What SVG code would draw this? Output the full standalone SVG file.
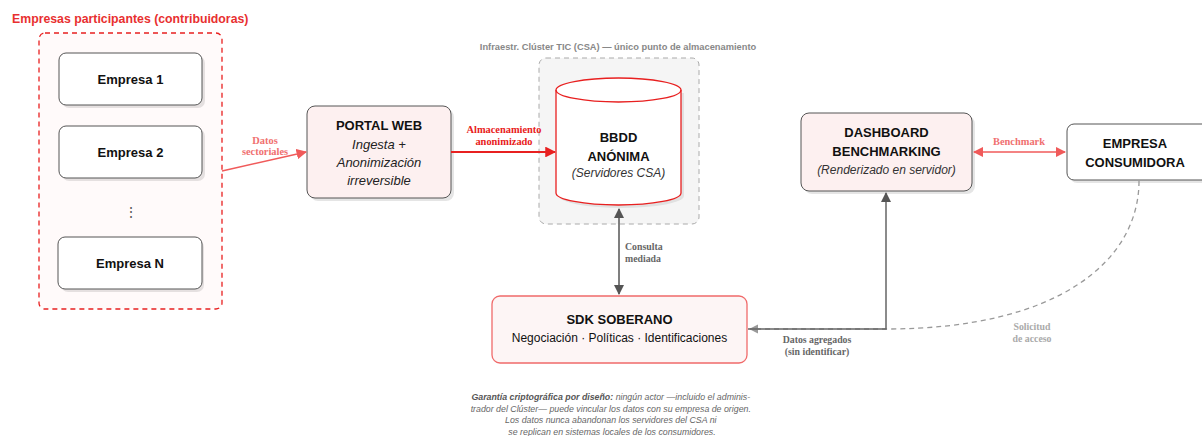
<svg xmlns="http://www.w3.org/2000/svg" width="1202" height="436" viewBox="0 0 1202 436">
<defs>
<style>
.sans{font-family:"Liberation Sans",Arial,sans-serif}
.serif{font-family:"Liberation Serif","Times New Roman",serif;font-weight:bold}
.b13{font-size:13px;font-weight:bold;fill:#111}
.i13{font-size:13px;font-style:italic;fill:#222}
.i12{font-size:12px;font-style:italic;fill:#333}
.box{fill:#fff;stroke:#555;stroke-width:1}
.pink{fill:#fdf0f0;stroke:#555;stroke-width:1}
.shadow{fill:#000;opacity:0.1}
.lbl{font-size:10.4px}
</style>
<marker id="aRed" viewBox="0 0 10 10" refX="9" refY="5" markerWidth="6" markerHeight="6" orient="auto-start-reverse"><path d="M0,0 L10,5 L0,10 z" fill="#e82020"/></marker>
<marker id="aLRed" viewBox="0 0 10 10" refX="9" refY="5" markerWidth="7" markerHeight="7" orient="auto-start-reverse"><path d="M0,0 L10,5 L0,10 z" fill="#f05a5a"/></marker>
<marker id="aDark" viewBox="0 0 10 10" refX="9" refY="5" markerWidth="7" markerHeight="7" orient="auto-start-reverse"><path d="M0,0 L10,5 L0,10 z" fill="#555"/></marker>
<marker id="aGray" viewBox="0 0 10 10" refX="9" refY="5" markerWidth="7" markerHeight="7" orient="auto-start-reverse"><path d="M0,0 L10,5 L0,10 z" fill="#999"/></marker>
</defs>
<rect width="1202" height="436" fill="#fff"/>

<g id="contribuidoras">
<text x="12" y="23" class="sans" font-size="12.3" font-weight="bold" fill="#e83030">Empresas participantes (contribuidoras)</text>
<rect x="39" y="33" width="183" height="276" rx="6" fill="#fffafa" stroke="#e82020" stroke-width="1.3" stroke-dasharray="5,4"/>
</g>
<g id="empresa1">
<rect x="62" y="56" width="143" height="52" rx="7" class="shadow"/>
<rect x="59" y="53" width="143" height="52" rx="7" class="box"/>
<text x="130.5" y="84" text-anchor="middle" class="sans b13">Empresa 1</text>
</g>
<g id="empresa2">
<rect x="62" y="129" width="143" height="52" rx="7" class="shadow"/>
<rect x="59" y="126" width="143" height="52" rx="7" class="box"/>
<text x="130.5" y="157" text-anchor="middle" class="sans b13">Empresa 2</text>
</g>
<g id="dots">
<text x="130.5" y="217" text-anchor="middle" class="sans" font-size="14" fill="#555">⋮</text>
</g>
<g id="empresaN">
<rect x="61" y="240" width="143" height="52" rx="7" class="shadow"/>
<rect x="58" y="237" width="144" height="52" rx="7" class="box"/>
<text x="130" y="268" text-anchor="middle" class="sans b13">Empresa N</text>
</g>

<g id="portal">
<rect x="310" y="109" width="144" height="92" rx="8" class="shadow"/>
<rect x="307" y="106" width="144" height="92" rx="8" class="pink"/>
<text x="379" y="130" text-anchor="middle" class="sans b13">PORTAL WEB</text>
<text x="379" y="149" text-anchor="middle" class="sans i13">Ingesta +</text>
<text x="379" y="167" text-anchor="middle" class="sans i13">Anonimización</text>
<text x="379" y="185" text-anchor="middle" class="sans i13">irreversible</text>
</g>

<g id="cluster">
<text x="618" y="50" text-anchor="middle" class="sans" font-size="9.3" font-weight="bold" fill="#888">Infraestr. Clúster TIC (CSA) — único punto de almacenamiento</text>
<rect x="539" y="58" width="160" height="166" rx="7" fill="#f5f5f5" stroke="#aaa" stroke-width="1" stroke-dasharray="5,4"/>
</g>
<g id="bbdd">
<path d="M559,93 L559,196 A62.5,12 0 0 0 684,196 L684,93" fill="#000" opacity="0.08"/>
<path d="M556,90 L556,193 A62.5,12 0 0 0 681,193 L681,90 A62.5,12 0 0 0 556,90 z" fill="#fff" stroke="#e82020" stroke-width="1.3"/>
<path d="M556,90 A62.5,12 0 0 0 681,90" fill="none" stroke="#e82020" stroke-width="1.3"/>
<text x="618.5" y="142" text-anchor="middle" class="sans b13">BBDD</text>
<text x="618.5" y="161" text-anchor="middle" class="sans b13">ANÓNIMA</text>
<text x="618.5" y="177" text-anchor="middle" class="sans i12">(Servidores CSA)</text>
</g>

<g id="dashboard">
<rect x="804" y="116" width="171" height="78" rx="8" class="shadow"/>
<rect x="801" y="113" width="171" height="78" rx="8" class="pink"/>
<text x="886.5" y="137" text-anchor="middle" class="sans b13">DASHBOARD</text>
<text x="886.5" y="156" text-anchor="middle" class="sans b13">BENCHMARKING</text>
<text x="886.5" y="174" text-anchor="middle" class="sans i12">(Renderizado en servidor)</text>
</g>

<g id="consumidora">
<rect x="1070" y="127" width="150" height="56" rx="7" class="shadow"/>
<rect x="1067" y="124" width="150" height="56" rx="7" class="box"/>
<text x="1135" y="148" text-anchor="middle" class="sans b13">EMPRESA</text>
<text x="1135" y="167" text-anchor="middle" class="sans b13">CONSUMIDORA</text>
</g>

<g id="sdk">
<rect x="492" y="296" width="255" height="67" rx="8" fill="#fdf5f5" stroke="#f06a6a" stroke-width="1.3"/>
<text x="619.5" y="324" text-anchor="middle" class="sans b13">SDK SOBERANO</text>
<text x="619.5" y="342" text-anchor="middle" class="sans" font-size="12" fill="#111">Negociación · Políticas · Identificaciones</text>
</g>

<g id="connectors">
<line x1="222" y1="171" x2="306" y2="152" stroke="#f05a5a" stroke-width="1.5" marker-end="url(#aLRed)"/>
<text class="serif lbl" fill="#f07070" text-anchor="middle"><tspan x="265" y="144">Datos</tspan><tspan x="265" y="155">sectoriales</tspan></text>

<line x1="451" y1="152" x2="555" y2="152" stroke="#e82020" stroke-width="1.8" marker-end="url(#aRed)"/>
<text class="serif lbl" fill="#e82020" text-anchor="middle"><tspan x="504" y="133">Almacenamiento</tspan><tspan x="504" y="145">anonimizado</tspan></text>

<line x1="974" y1="152" x2="1065" y2="152" stroke="#f05a5a" stroke-width="1.5" marker-start="url(#aLRed)" marker-end="url(#aLRed)"/>
<text x="1019" y="145" class="serif lbl" fill="#f07070" text-anchor="middle">Benchmark</text>

<line x1="619" y1="209" x2="619" y2="294" stroke="#555" stroke-width="1.5" marker-start="url(#aDark)" marker-end="url(#aDark)"/>
<text class="serif" font-size="9.8" fill="#666"><tspan x="625" y="250">Consulta</tspan><tspan x="625" y="262">mediada</tspan></text>

<path d="M1139,181 C1139,260 1060,329 886,329 L750,329" fill="none" stroke="#999" stroke-width="1.3" stroke-dasharray="5,4" marker-end="url(#aGray)"/>
<path d="M748,329 L886,329 L886,193" fill="none" stroke="#666" stroke-width="1.5" marker-end="url(#aDark)"/>
<text class="serif" font-size="9.8" fill="#666" text-anchor="middle"><tspan x="817" y="343">Datos agregados</tspan><tspan x="817" y="355">(sin identificar)</tspan></text>
<text class="serif" font-size="9.8" fill="#aaa" text-anchor="middle"><tspan x="1032" y="330">Solicitud</tspan><tspan x="1032" y="342">de acceso</tspan></text>
</g>

<g id="nota">
<text class="sans" font-size="8.8" font-style="italic" fill="#666" text-anchor="middle">
<tspan x="612" y="400"><tspan font-weight="bold" fill="#555">Garantía criptográfica por diseño:</tspan> ningún actor —incluido el adminis-</tspan>
<tspan x="612" y="412">trador del Clúster— puede vincular los datos con su empresa de origen.</tspan>
<tspan x="612" y="423">Los datos nunca abandonan los servidores del CSA ni</tspan>
<tspan x="612" y="435">se replican en sistemas locales de los consumidores.</tspan>
</text>
</g>
</svg>
